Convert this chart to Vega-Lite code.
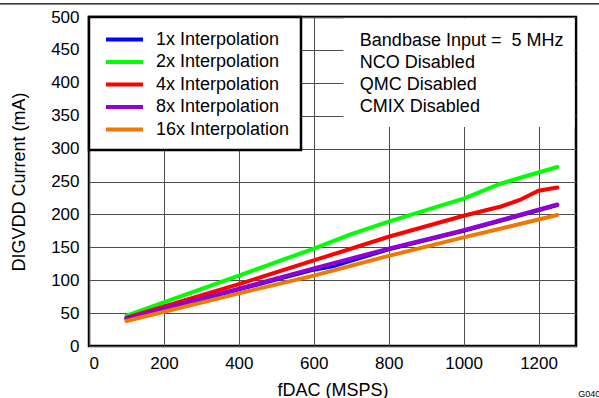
{
  "$schema": "https://vega.github.io/schema/vega-lite/v6.json",
  "width": 487,
  "height": 329,
  "autosize": {"type": "none"},
  "padding": {"left": 89, "top": 17, "right": 23, "bottom": 52},
  "background": "white",
  "title": {"text": "G040", "orient": "bottom", "anchor": "end", "align": "right", "baseline": "top", "fontSize": 9, "fontWeight": "normal", "color": "black", "dx": 0, "offset": -9},
  "config": {
    "font": "Liberation Sans",
    "view": {"stroke": "black", "strokeWidth": 2.5},
    "axis": {"labelFont": "Liberation Sans", "titleFont": "Liberation Sans", "labelColor": "black", "titleColor": "black", "titleFontWeight": "normal", "labelFontSize": 17, "titleFontSize": 18, "domain": false, "ticks": false, "grid": true, "gridColor": "#4d4d4d", "gridWidth": 1, "gridOpacity": 1}
  },
  "layer": [
    {
      "data": {"values": [
        {"series": "1x Interpolation", "f": 100, "i": 41},
        {"series": "1x Interpolation", "f": 400, "i": 86},
        {"series": "1x Interpolation", "f": 600, "i": 116},
        {"series": "1x Interpolation", "f": 650, "i": 121},
        {"series": "1x Interpolation", "f": 800, "i": 147},
        {"series": "1x Interpolation", "f": 1000, "i": 175},
        {"series": "1x Interpolation", "f": 1250, "i": 214},
        {"series": "2x Interpolation", "f": 100, "i": 46},
        {"series": "2x Interpolation", "f": 400, "i": 107},
        {"series": "2x Interpolation", "f": 600, "i": 148},
        {"series": "2x Interpolation", "f": 700, "i": 170},
        {"series": "2x Interpolation", "f": 800, "i": 189},
        {"series": "2x Interpolation", "f": 1000, "i": 224},
        {"series": "2x Interpolation", "f": 1100, "i": 247},
        {"series": "2x Interpolation", "f": 1250, "i": 272},
        {"series": "4x Interpolation", "f": 100, "i": 43},
        {"series": "4x Interpolation", "f": 400, "i": 94},
        {"series": "4x Interpolation", "f": 600, "i": 130},
        {"series": "4x Interpolation", "f": 800, "i": 166},
        {"series": "4x Interpolation", "f": 1000, "i": 198},
        {"series": "4x Interpolation", "f": 1100, "i": 212},
        {"series": "4x Interpolation", "f": 1150, "i": 222},
        {"series": "4x Interpolation", "f": 1200, "i": 236},
        {"series": "4x Interpolation", "f": 1250, "i": 241},
        {"series": "8x Interpolation", "f": 100, "i": 42},
        {"series": "8x Interpolation", "f": 400, "i": 87},
        {"series": "8x Interpolation", "f": 600, "i": 118},
        {"series": "8x Interpolation", "f": 800, "i": 148},
        {"series": "8x Interpolation", "f": 1000, "i": 176},
        {"series": "8x Interpolation", "f": 1250, "i": 215},
        {"series": "16x Interpolation", "f": 100, "i": 38},
        {"series": "16x Interpolation", "f": 400, "i": 80},
        {"series": "16x Interpolation", "f": 600, "i": 107},
        {"series": "16x Interpolation", "f": 800, "i": 137},
        {"series": "16x Interpolation", "f": 1000, "i": 165},
        {"series": "16x Interpolation", "f": 1250, "i": 199}
      ]},
      "mark": {"type": "line", "strokeWidth": 4, "strokeCap": "round"},
      "encoding": {
        "x": {"field": "f", "type": "quantitative", "scale": {"domain": [0, 1300], "nice": false}, "axis": {"values": [0, 200, 400, 600, 800, 1000, 1200], "format": "d", "title": "fDAC (MSPS)", "labelPadding": 9, "titlePadding": 10}},
        "y": {"field": "i", "type": "quantitative", "scale": {"domain": [0, 500], "nice": false}, "axis": {"values": [0, 50, 100, 150, 200, 250, 300, 350, 400, 450, 500], "format": "d", "title": "DIGVDD Current (mA)", "labelPadding": 10, "titlePadding": 22}},
        "color": {
          "field": "series", "type": "nominal",
          "scale": {"domain": ["1x Interpolation", "2x Interpolation", "4x Interpolation", "8x Interpolation", "16x Interpolation"], "range": ["#0000ff", "#00ff00", "#ff0000", "#9400d3", "#f07800"]},
          "legend": {
            "title": null, "orient": "none", "legendX": 0, "legendY": 0,
            "fillColor": "white", "strokeColor": "black", "padding": 11,
            "symbolType": "M-2,0H2", "symbolSize": 342, "symbolStrokeWidth": 4, "symbolOffset": 13,
            "labelFontSize": 18, "labelColor": "black", "labelOffset": 20, "rowPadding": 1.5,
            "encode": {"legend": {"update": {"strokeWidth": {"value": 2.5}}}}
          }
        }
      }
    },
    {
      "data": {"values": [{}]},
      "mark": {"type": "rect", "fill": "white"},
      "encoding": {
        "x": {"datum": 679, "type": "quantitative", "axis": {"values": [0, 200, 400, 600, 800, 1000, 1200], "format": "d", "title": "fDAC (MSPS)", "labelPadding": 9, "titlePadding": 10}},
        "x2": {"datum": 1296},
        "y": {"datum": 498, "type": "quantitative", "axis": {"values": [0, 50, 100, 150, 200, 250, 300, 350, 400, 450, 500], "format": "d", "title": "DIGVDD Current (mA)", "labelPadding": 10, "titlePadding": 22}},
        "y2": {"datum": 333}
      }
    },
    {
      "data": {"values": [{}]},
      "mark": {"type": "text", "align": "left", "baseline": "alphabetic", "fontSize": 18, "lineHeight": 22, "color": "black",
        "text": ["Bandbase Input =\u00a0 5 MHz", "NCO Disabled", "QMC Disabled", "CMIX Disabled"]},
      "encoding": {
        "x": {"datum": 723, "type": "quantitative", "axis": {"values": [0, 200, 400, 600, 800, 1000, 1200], "format": "d", "title": "fDAC (MSPS)", "labelPadding": 9, "titlePadding": 10}},
        "y": {"datum": 456, "type": "quantitative", "axis": {"values": [0, 50, 100, 150, 200, 250, 300, 350, 400, 450, 500], "format": "d", "title": "DIGVDD Current (mA)", "labelPadding": 10, "titlePadding": 22}}
      }
    },
    {
      "data": {"values": [{}]},
      "mark": {"type": "rule", "clip": false, "strokeWidth": 1.3, "color": "black"},
      "encoding": {
        "x": {"datum": -238, "type": "quantitative", "axis": {"values": [0, 200, 400, 600, 800, 1000, 1200], "format": "d", "title": "fDAC (MSPS)", "labelPadding": 9, "titlePadding": 10}},
        "x2": {"datum": 1363},
        "y": {"datum": 520, "type": "quantitative", "axis": {"values": [0, 50, 100, 150, 200, 250, 300, 350, 400, 450, 500], "format": "d", "title": "DIGVDD Current (mA)", "labelPadding": 10, "titlePadding": 22}}
      }
    }
  ]
}
